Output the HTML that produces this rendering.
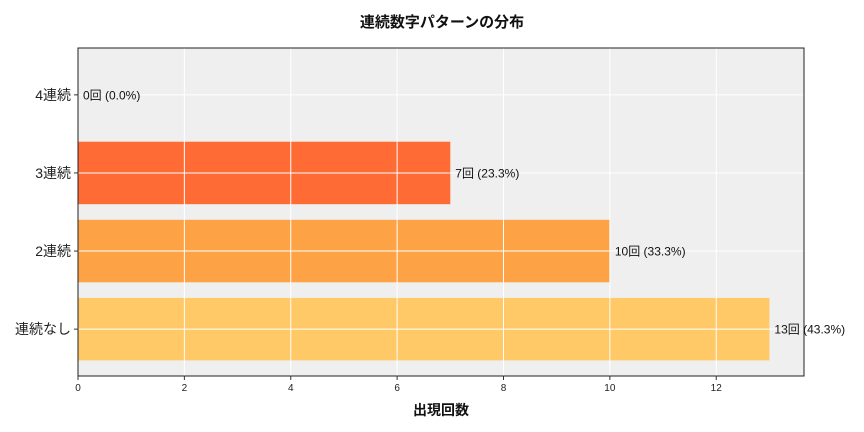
<!DOCTYPE html>
<html><head><meta charset="utf-8">
<style>
body{margin:0;background:#fff;}
svg{display:block;font-family:"Liberation Sans","Noto Sans CJK JP",sans-serif;}
</style></head>
<body>
<svg id="chart" width="864" height="432"></svg>
<script>
const categories = ["連続なし","2連続","3連続","4連続"];
const counts = [13,10,7,0];
const percentLabels = ["43.3%","33.3%","23.3%","0.0%"];
const barColors = ["#fec966","#fea345","#fe6b35","#fe6b35"];
const xTicks = [0,2,4,6,8,10,12];

const svg = document.getElementById('chart');
const NS = 'http://www.w3.org/2000/svg';
const L=78,R=804,T=48,B=376;
const xMax = Math.max(...counts)*1.05;
const xs = v => L + v/xMax*(R-L);
const yMin=-0.6, yMax=categories.length-1+0.6;
const ys = v => B - (v-yMin)/(yMax-yMin)*(B-T);
const band = (B-T)/(yMax-yMin);
function mk(tag, attrs, parent){const e=document.createElementNS(NS,tag);for(const k in attrs)e.setAttribute(k,attrs[k]);(parent||svg).appendChild(e);return e;}

const bg = mk('rect',{x:L,y:T,width:R-L,height:B-T,fill:'#efefef'});



counts.forEach((v,i)=>{
  const r = mk('rect',{x:xs(0),y:ys(i)-band*0.4,width:xs(v)-xs(0),height:band*0.8,fill:barColors[i]});
  
  
});

xTicks.forEach(t=>{
  const g = mk('line',{x1:xs(t),x2:xs(t),y1:T,y2:B,stroke:'#fff','stroke-width':1});
  
  
  const tk = mk('line',{x1:xs(t),x2:xs(t),y1:B,y2:B+4,stroke:'#333'});
  
  
  const tx = mk('text',{x:xs(t),y:B+15,'font-size':10,'text-anchor':'middle',fill:'#222'});
  tx.textContent=t;
  
  
});
categories.forEach((c,i)=>{
  const g = mk('line',{x1:L,x2:R,y1:ys(i),y2:ys(i),stroke:'#fff','stroke-width':1});
  
  
  const tk = mk('line',{x1:L-4,x2:L,y1:ys(i),y2:ys(i),stroke:'#333'});
  
  
  const tx = mk('text',{x:L-7,y:ys(i)+5,'font-size':14,'text-anchor':'end',fill:'#222'});
  tx.textContent=c;
  
  
  const vl = mk('text',{x:xs(counts[i])+5,y:ys(i)+4.5,'font-size':12,fill:'#111'});
  vl.textContent=counts[i]+'回 ('+percentLabels[i]+')';
  
  
});

const frame = mk('rect',{x:L,y:T,width:R-L,height:B-T,fill:'none',stroke:'#222','stroke-width':1});



const title = mk('text',{x:(L+R)/2+1,y:27,'font-size':15,'font-weight':'bold','text-anchor':'middle',fill:'#111'});
title.textContent='連続数字パターンの分布';



const xt = mk('text',{x:(L+R)/2,y:415,'font-size':14,'font-weight':'bold','text-anchor':'middle',fill:'#111'});
xt.textContent='出現回数';


</script>
</body></html>
